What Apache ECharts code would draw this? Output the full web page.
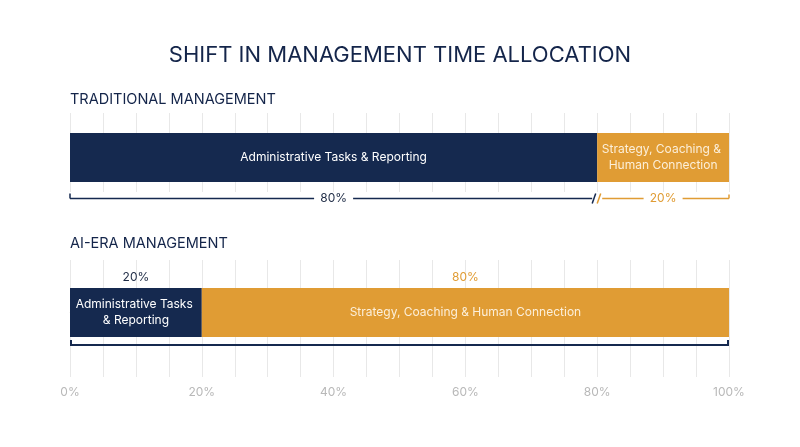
<!DOCTYPE html>
<html><head><meta charset="utf-8">
<script src="https://cdn.jsdelivr.net/npm/echarts@6/dist/echarts.min.js"></script>
<style>html,body{margin:0;padding:0;background:#fff}#chart{width:800px;height:447px}</style>
</head><body><div id="chart"></div>
<script>
const chartTitle = 'SHIFT IN MANAGEMENT TIME ALLOCATION';
const sections = ['TRADITIONAL MANAGEMENT', 'AI-ERA MANAGEMENT'];
const categories = ['Administrative Tasks & Reporting', 'Strategy, Coaching & Human Connection'];
const traditionalShare = [80, 20];
const aiEraShare = [20, 80];
const tickLabels = ['0%', '20%', '40%', '60%', '80%', '100%'];

const NAVY = '#15294f', ORANGE = '#e09c34', GRIDC = '#e8e8e8';
const FONT = 'Inter, "Noto Sans", sans-serif';
const colors = [NAVY, ORANGE];
const barTextColors = ['#ffffff', '#fcefd9'];
const pctColors = ['#1e2b45', ORANGE];
const BAR_H = 49;

function segments(shares) {
  let acc = 0;
  return shares.map((v, i) => { const s = acc; acc += v; return [s, acc, i, v]; });
}

function renderBar(params, api) {
  const i = api.value(2);
  const p0 = api.coord([api.value(0), 0]);
  const p1 = api.coord([api.value(1), 0]);
  const w = p1[0] - p0[0];
  return { type: 'group', children: [
    { type: 'rect', shape: { x: p0[0], y: p0[1] - BAR_H / 2, width: w, height: BAR_H }, style: { fill: colors[i] } },
    { type: 'text', x: p0[0] + w / 2, y: p0[1], style: { text: categories[i], fill: barTextColors[i], font: '12px ' + FONT, align: 'center', verticalAlign: 'middle', width: w - 4, overflow: 'break', lineHeight: 16 } }
  ]};
}

function renderSplitBracket(params, api) {
  const i = api.value(2), n = traditionalShare.length;
  const p0 = api.coord([api.value(0), 0]), p1 = api.coord([api.value(1), 0]);
  const y = p0[1] + 41;
  const c = colors[i];
  const st = { stroke: c, lineWidth: 1.5 };
  const xs = i === 0 ? p0[0] : p0[0] + 5;
  const xe = i === n - 1 ? p1[0] : p1[0] - 5;
  const mid = (p0[0] + p1[0]) / 2;
  const gap = 19.5;
  const ch = [
    { type: 'line', shape: { x1: xs, y1: y, x2: mid - gap, y2: y }, style: st },
    { type: 'line', shape: { x1: mid + gap, y1: y, x2: xe, y2: y }, style: st },
    { type: 'text', x: mid, y: y, style: { text: api.value(3) + '%', fill: pctColors[i], font: '12px ' + FONT, align: 'center', verticalAlign: 'middle' } }
  ];
  if (i === 0) ch.push({ type: 'line', shape: { x1: xs, y1: y - 5, x2: xs, y2: y }, style: st });
  else ch.push({ type: 'line', shape: { x1: p0[0], y1: y + 5, x2: p0[0] + 3.5, y2: y - 5 }, style: st });
  if (i === n - 1) ch.push({ type: 'line', shape: { x1: xe, y1: y - 4, x2: xe, y2: y }, style: st });
  else ch.push({ type: 'line', shape: { x1: xe, y1: y + 5, x2: xe + 3.5, y2: y - 5 }, style: st });
  return { type: 'group', children: ch };
}

function renderTopPct(params, api) {
  const i = api.value(2);
  const p0 = api.coord([api.value(0), 0]), p1 = api.coord([api.value(1), 0]);
  return { type: 'text', x: (p0[0] + p1[0]) / 2, y: p0[1] - 35.5, style: { text: api.value(3) + '%', fill: pctColors[i], font: '12px ' + FONT, align: 'center', verticalAlign: 'middle' } };
}

function renderTotalBracket(params, api) {
  const p0 = api.coord([api.value(0), 0]), p1 = api.coord([api.value(1), 0]);
  const y = p0[1] + 32.5;
  const st = { stroke: NAVY, lineWidth: 2 };
  return { type: 'group', children: [
    { type: 'line', shape: { x1: p0[0], y1: y, x2: p1[0], y2: y }, style: st },
    { type: 'line', shape: { x1: p0[0] + 1, y1: y - 5, x2: p0[0] + 1, y2: y }, style: st },
    { type: 'line', shape: { x1: p1[0] - 1, y1: y - 5, x2: p1[0] - 1, y2: y }, style: st }
  ]};
}

const tradSeg = segments(traditionalShare);
const aiSeg = segments(aiEraShare);
const aiTotal = [[aiSeg[0][0], aiSeg[aiSeg.length - 1][1], 0, 100]];

const xBase = {
  type: 'value', min: 0, max: 100, interval: 5,
  axisTick: { show: false },
  splitLine: { show: true, lineStyle: { color: GRIDC, width: 1 } }
};

const option = {
  animation: false,
  backgroundColor: '#ffffff',
  title: [
    { text: chartTitle, left: 'center', top: 39, textStyle: { fontFamily: FONT, fontSize: 22, fontWeight: 'normal', color: '#14254a' } },
    { text: sections[0], left: 65, top: 87, textStyle: { fontFamily: FONT, fontSize: 14.5, fontWeight: 'normal', color: '#14254a' } },
    { text: sections[1], left: 65, top: 231, textStyle: { fontFamily: FONT, fontSize: 14.5, fontWeight: 'normal', color: '#14254a' } }
  ],
  grid: [
    { left: 70, right: 71, top: 113, height: 79 },
    { left: 70, right: 71, top: 260, height: 117 }
  ],
  xAxis: [
    Object.assign({}, xBase, { gridIndex: 0, axisLine: { show: false }, axisLabel: { show: false } }),
    Object.assign({}, xBase, { gridIndex: 1, axisLine: { show: true, lineStyle: { color: GRIDC } },
      axisLabel: { show: true, color: '#b8b8b8', fontFamily: FONT, fontSize: 12, margin: 9,
        formatter: v => (v % 20 === 0 ? tickLabels[v / 20] : '') } })
  ],
  yAxis: [
    { type: 'value', gridIndex: 0, min: -34.5, max: 44.5, show: false },
    { type: 'value', gridIndex: 1, min: -64.5, max: 52.5, show: false }
  ],
  series: [
    { type: 'custom', xAxisIndex: 0, yAxisIndex: 0, data: tradSeg, renderItem: renderBar, silent: true },
    { type: 'custom', xAxisIndex: 0, yAxisIndex: 0, data: tradSeg, renderItem: renderSplitBracket, silent: true },
    { type: 'custom', xAxisIndex: 1, yAxisIndex: 1, data: aiSeg, renderItem: renderBar, silent: true },
    { type: 'custom', xAxisIndex: 1, yAxisIndex: 1, data: aiSeg, renderItem: renderTopPct, silent: true },
    { type: 'custom', xAxisIndex: 1, yAxisIndex: 1, data: aiTotal, renderItem: renderTotalBracket, silent: true }
  ]
};

const chart = echarts.init(document.getElementById('chart'), null, { renderer: 'canvas' });
chart.setOption(option);
</script></body></html>
